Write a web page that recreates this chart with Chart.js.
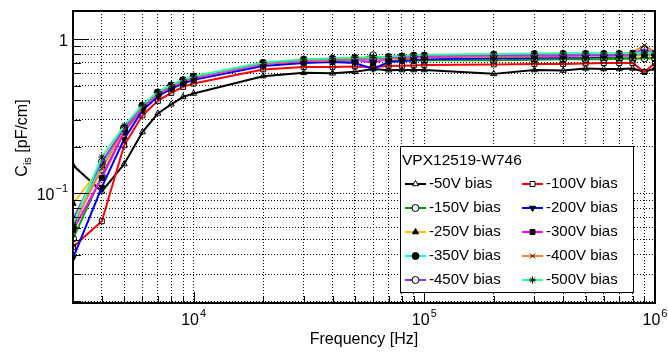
<!DOCTYPE html>
<html>
<head>
<meta charset="utf-8">
<script src="https://cdn.jsdelivr.net/npm/chart.js@4/dist/chart.umd.min.js"></script>
<style>
  html, body { margin: 0; padding: 0; background: #fff; }
  #wrap { width: 668px; height: 355px; }
</style>
</head>
<body>
<div id="wrap"><canvas id="c" width="668" height="355"></canvas></div>
<script>
// frequencies [Hz]
const freq = [3e3, 4e3, 5e3, 6e3, 7e3, 8e3, 9e3, 1e4, 2e4, 3e4, 4e4, 5e4, 6e4, 7e4, 8e4, 9e4,
              1e5, 2e5, 3e5, 4e5, 5e5, 6e5, 7e5, 8e5, 9e5, 1e6];

// interstrip capacitance [pF/cm] per bias
const c50  = [0.152, 0.103, 0.155, 0.250, 0.330, 0.378, 0.422, 0.444, 0.575, 0.604, 0.600, 0.613, 0.640,
              0.628, 0.630, 0.630, 0.630, 0.595, 0.630, 0.625, 0.645, 0.640, 0.640, 0.645, 0.615, 0.645];
const c100 = [0.045, 0.066, 0.205, 0.320, 0.398, 0.448, 0.490, 0.515, 0.636, 0.660, 0.660, 0.665, 0.660,
              0.670, 0.672, 0.675, 0.680, 0.685, 0.690, 0.690, 0.695, 0.700, 0.700, 0.700, 0.612, 0.700];
const c150 = [0.051, 0.130, 0.250, 0.355, 0.430, 0.480, 0.520, 0.550, 0.680, 0.710, 0.720, 0.725, 0.785,
              0.720, 0.730, 0.730, 0.730, 0.730, 0.735, 0.740, 0.740, 0.740, 0.745, 0.745, 0.750, 0.750];
const c200 = [0.038, 0.110, 0.225, 0.345, 0.425, 0.478, 0.515, 0.545, 0.670, 0.700, 0.710, 0.700, 0.640,
              0.710, 0.720, 0.730, 0.740, 0.750, 0.755, 0.760, 0.760, 0.765, 0.770, 0.770, 0.820, 0.780];
const c250 = [0.086, 0.150, 0.260, 0.365, 0.440, 0.490, 0.530, 0.560, 0.690, 0.720, 0.730, 0.740, 0.720,
              0.740, 0.750, 0.750, 0.760, 0.770, 0.770, 0.775, 0.775, 0.780, 0.780, 0.780, 0.780, 0.780];
const c300 = [0.058, 0.126, 0.250, 0.360, 0.440, 0.490, 0.530, 0.560, 0.690, 0.720, 0.730, 0.740, 0.700,
              0.750, 0.755, 0.760, 0.765, 0.775, 0.780, 0.780, 0.785, 0.785, 0.790, 0.790, 0.800, 0.790];
const c350 = [0.060, 0.155, 0.265, 0.370, 0.450, 0.500, 0.540, 0.570, 0.700, 0.730, 0.740, 0.750, 0.730,
              0.760, 0.770, 0.780, 0.780, 0.790, 0.800, 0.800, 0.800, 0.800, 0.800, 0.800, 0.810, 0.800];
const c400 = [0.062, 0.145, 0.260, 0.365, 0.445, 0.495, 0.535, 0.565, 0.695, 0.725, 0.735, 0.745, 0.740,
              0.755, 0.765, 0.770, 0.775, 0.780, 0.785, 0.790, 0.795, 0.800, 0.800, 0.820, 0.910, 0.820];
const c450 = [0.068, 0.160, 0.265, 0.370, 0.450, 0.500, 0.540, 0.570, 0.700, 0.735, 0.745, 0.755, 0.750,
              0.765, 0.770, 0.775, 0.780, 0.785, 0.790, 0.790, 0.790, 0.790, 0.795, 0.800, 0.860, 0.800];
const c500 = [0.063, 0.172, 0.275, 0.375, 0.455, 0.505, 0.545, 0.575, 0.705, 0.740, 0.750, 0.760, 0.760,
              0.770, 0.780, 0.785, 0.790, 0.800, 0.805, 0.810, 0.810, 0.810, 0.810, 0.810, 0.820, 0.810];

const biasLabels = ['-50V bias', '-100V bias', '-150V bias', '-200V bias', '-250V bias',
                    '-300V bias', '-350V bias', '-400V bias', '-450V bias', '-500V bias'];
const seriesValues = [c50, c100, c150, c200, c250, c300, c350, c400, c450, c500];

// axis ticks (log decades with 2..9 minors)
const xTicks = [3e3, 4e3, 5e3, 6e3, 7e3, 8e3, 9e3, 1e4, 2e4, 3e4, 4e4, 5e4, 6e4, 7e4, 8e4, 9e4,
                1e5, 2e5, 3e5, 4e5, 5e5, 6e5, 7e5, 8e5, 9e5, 1e6];
const yTicks = [0.02, 0.03, 0.04, 0.05, 0.06, 0.07, 0.08, 0.09, 0.1, 0.2, 0.3, 0.4, 0.5, 0.6, 0.7, 0.8, 0.9, 1];
const xLabels = [[1e4, '10', '4'], [1e5, '10', '5'], [1e6, '10', '6']];
const yLabels = [[1, '1', ''], [0.1, '10', '\u22121']];

const styles = [
  { color: '#000000', point: 'triangle', fill: false, rot: 0 },
  { color: '#ff0000', point: 'rect', fill: false, rot: 0 },
  { color: '#00a000', point: 'circle', fill: false, rot: 0 },
  { color: '#0000ff', point: 'triangle', fill: true, rot: 180 },
  { color: '#ffc000', point: 'triangle', fill: true, rot: 0 },
  { color: '#ff00ff', point: 'rect', fill: true, rot: 0 },
  { color: '#00ffff', point: 'circle', fill: true, rot: 0 },
  { color: '#ff7f27', point: 'crossRot', fill: false, rot: 0 },
  { color: '#8a33ff', point: 'circle', fill: false, rot: 0 },
  { color: '#33ff99', point: 'star', fill: false, rot: 0 }
];

const FONT = '"Liberation Sans", Arial, Helvetica, sans-serif';

const datasets = seriesValues.map((vals, i) => ({
  label: biasLabels[i],
  data: vals.map((v, j) => ({ x: freq[j], y: v })),
  borderColor: styles[i].color,
  borderWidth: 2,
  tension: 0,
  pointStyle: styles[i].point,
  pointRotation: styles[i].rot,
  pointRadius: 3.5,
  pointBorderWidth: 1,
  pointBorderColor: '#000',
  pointBackgroundColor: styles[i].fill ? '#000' : 'rgba(0,0,0,0)',
  order: 20 - i
}));

function drawPow(ctx, base, exp, x, baseline, align) {
  ctx.font = '16px ' + FONT;
  const w1 = ctx.measureText(base).width;
  ctx.font = '11px ' + FONT;
  const w2 = exp ? ctx.measureText(exp).width + 1 : 0;
  const total = w1 + w2;
  let start = align === 'right' ? x - total : x - total / 2;
  ctx.textAlign = 'left';
  ctx.textBaseline = 'alphabetic';
  ctx.font = '16px ' + FONT;
  ctx.fillText(base, start, baseline);
  if (exp) {
    ctx.font = '11px ' + FONT;
    ctx.fillText(exp, start + w1 + 1, baseline - 8);
  }
}

const rootFrame = {
  id: 'rootFrame',
  afterDraw(chart) {
    const { ctx, chartArea: a, scales: { x, y } } = chart;
    ctx.save();
    ctx.strokeStyle = '#000';
    ctx.fillStyle = '#000';
    ctx.lineWidth = 1;
    ctx.beginPath();
    xTicks.forEach(v => {
      const px = Math.round(x.getPixelForValue(v)) + 0.5;
      const major = Math.abs(Math.log10(v) % 1) < 1e-9;
      ctx.moveTo(px, a.bottom);
      ctx.lineTo(px, a.bottom - (major ? 11 : 7));
    });
    yTicks.forEach(v => {
      const py = Math.round(y.getPixelForValue(v)) + 0.5;
      const major = Math.abs(Math.log10(v) % 1) < 1e-9;
      ctx.moveTo(a.left, py);
      ctx.lineTo(a.left + (major ? 16 : 8), py);
    });
    ctx.stroke();
    ctx.lineWidth = 2;
    ctx.strokeRect(a.left, a.top, a.right - a.left, a.bottom - a.top);

    // tick labels
    xLabels.forEach(([v, b, e]) => drawPow(ctx, b, e, x.getPixelForValue(v), a.bottom + 22, 'center'));
    yLabels.forEach(([v, b, e]) => drawPow(ctx, b, e, a.left - 5, y.getPixelForValue(v) + 7, 'right'));

    // axis titles
    ctx.font = '16px ' + FONT;
    ctx.textAlign = 'center';
    ctx.fillText('Frequency [Hz]', (a.left + a.right) / 2, 344);

    ctx.save();
    ctx.translate(27, 138);
    ctx.rotate(-Math.PI / 2);
    ctx.textAlign = 'left';
    ctx.font = '16px ' + FONT;
    const wC = ctx.measureText('C').width;
    ctx.font = '11px ' + FONT;
    const wS = ctx.measureText('is').width;
    ctx.font = '16px ' + FONT;
    const wR = ctx.measureText(' [pF/cm]').width;
    let sx = -(wC + wS + wR) / 2;
    ctx.fillText('C', sx, 0);
    ctx.font = '11px ' + FONT;
    ctx.fillText('is', sx + wC, 4);
    ctx.font = '16px ' + FONT;
    ctx.fillText(' [pF/cm]', sx + wC + wS, 0);
    ctx.restore();

    // legend box
    const L = { x0: 400, y0: 146, x1: 633, y1: 292 };
    ctx.fillStyle = '#fff';
    ctx.fillRect(L.x0, L.y0, L.x1 - L.x0, L.y1 - L.y0);
    ctx.strokeStyle = '#000';
    ctx.lineWidth = 1;
    ctx.strokeRect(L.x0 + 0.5, L.y0 + 0.5, L.x1 - L.x0, L.y1 - L.y0);
    ctx.fillStyle = '#000';
    ctx.font = '15.5px ' + FONT;
    ctx.textAlign = 'left';
    ctx.textBaseline = 'middle';
    ctx.fillText('VPX12519-W746', 402, 161);
    const rowY = [184, 208, 232, 256, 280];
    const colX = [405, 522];
    chart.data.datasets.forEach((ds, i) => {
      const cx = colX[i % 2];
      const cy = rowY[Math.floor(i / 2)];
      ctx.strokeStyle = ds.borderColor;
      ctx.lineWidth = 2;
      ctx.beginPath();
      ctx.moveTo(cx, cy);
      ctx.lineTo(cx + 21, cy);
      ctx.stroke();
      ctx.strokeStyle = '#000';
      ctx.fillStyle = ds.pointBackgroundColor === '#000' ? '#000' : '#fff';
      ctx.lineWidth = 1;
      Chart.helpers.drawPoint(ctx, {
        pointStyle: ds.pointStyle, rotation: ds.pointRotation, radius: 3.5, borderWidth: 1
      }, cx + 10.5, cy);
      ctx.fillStyle = '#000';
      ctx.font = '15px ' + FONT;
      ctx.textBaseline = 'middle';
      ctx.fillText(ds.label, cx + 24, cy);
    });
    ctx.restore();
  }
};

new Chart(document.getElementById('c'), {
  type: 'line',
  data: { datasets },
  options: {
    responsive: false,
    animation: false,
    layout: { padding: { left: 73, top: 11, right: 13, bottom: 52 } },
    plugins: { legend: { display: false }, tooltip: { enabled: false } },
    scales: {
      x: {
        type: 'logarithmic',
        min: 3000,
        max: 1e6,
        afterBuildTicks: s => { s.ticks = xTicks.map(v => ({ value: v })); },
        ticks: { display: false },
        grid: { color: '#000', lineWidth: 1, drawTicks: false },
        border: { display: false, dash: [1, 2] }
      },
      y: {
        type: 'logarithmic',
        min: 0.0195,
        max: 1.52,
        afterBuildTicks: s => { s.ticks = yTicks.map(v => ({ value: v })); },
        ticks: { display: false },
        grid: { color: '#000', lineWidth: 1, drawTicks: false },
        border: { display: false, dash: [1, 2] }
      }
    }
  },
  plugins: [rootFrame]
});
</script>
</body>
</html>
